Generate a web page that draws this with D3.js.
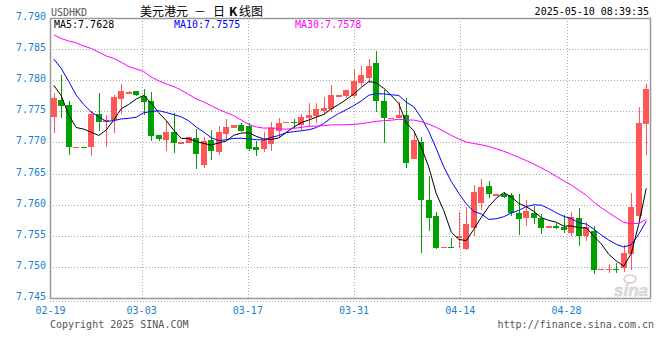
<!DOCTYPE html>
<html>
<head>
<meta charset="utf-8">
<script src="https://cdn.jsdelivr.net/npm/d3@7/dist/d3.min.js"></script>
<style>
  body { margin: 0; background: #fff; }
  text { font-family: "DejaVu Sans Mono", monospace; font-size: 10px; }
</style>
</head>
<body>
<svg id="chart" width="660" height="360"></svg>
<script>
// daily candles, 02-19 .. 05-09 (calendar days, weekends included)
let dates = [
  "02-19","02-20","02-21","02-22","02-23","02-24","02-25","02-26","02-27","02-28",
  "03-01","03-02","03-03","03-04","03-05","03-06","03-07","03-08","03-09","03-10",
  "03-11","03-12","03-13","03-14","03-15","03-16","03-17","03-18","03-19","03-20",
  "03-21","03-22","03-23","03-24","03-25","03-26","03-27","03-28","03-29","03-30",
  "03-31","04-01","04-02","04-03","04-04","04-05","04-06","04-07","04-08","04-09",
  "04-10","04-11","04-12","04-13","04-14","04-15","04-16","04-17","04-18","04-19",
  "04-20","04-21","04-22","04-23","04-24","04-25","04-26","04-27","04-28","04-29",
  "04-30","05-01","05-02","05-03","05-04","05-05","05-06","05-07","05-08","05-09"
];

let open = [
  7.7741,7.7768,7.7760,7.7692,7.7693,7.7692,7.7746,7.7734,7.7736,7.7770,
  7.7780,7.7783,7.7775,7.7767,7.7712,7.7704,7.7716,7.7699,7.7699,7.7707,
  7.7663,7.7704,7.7685,7.7714,7.7724,7.7728,7.7727,7.7692,7.7689,7.7698,
  7.7718,7.7732,7.7733,7.7728,7.7740,7.7743,7.7751,7.7754,7.7775,7.7775,
  7.7775,7.7796,7.7804,7.7827,7.7767,7.7739,7.7740,7.7744,7.7673,7.7700,
  7.7608,7.7581,7.7530,7.7532,7.7547,7.7529,7.7563,7.7603,7.7630,7.7616,
  7.7617,7.7616,7.7586,7.7579,7.7586,7.7578,7.7563,7.7566,7.7564,7.7554,
  7.7578,7.7549,7.7557,7.7496,7.7496,7.7497,7.7498,7.7521,7.7581,7.7730
];
let high = [
  7.7779,7.7808,7.7767,7.7693,7.7693,7.7751,7.7779,7.7744,7.7776,7.7794,
  7.7783,7.7783,7.7786,7.7781,7.7712,7.7734,7.7747,7.7700,7.7709,7.7722,
  7.7709,7.7720,7.7726,7.7738,7.7728,7.7731,7.7731,7.7702,7.7716,7.7733,
  7.7739,7.7733,7.7738,7.7746,7.7763,7.7764,7.7773,7.7792,7.7776,7.7784,
  7.7818,7.7823,7.7834,7.7847,7.7784,7.7740,7.7765,7.7771,7.7715,7.7709,
  7.7646,7.7589,7.7532,7.7547,7.7589,7.7597,7.7632,7.7641,7.7638,7.7617,
  7.7620,7.7619,7.7617,7.7608,7.7598,7.7585,7.7565,7.7570,7.7583,7.7589,
  7.7594,7.7572,7.7565,7.7497,7.7504,7.7506,7.7535,7.7618,7.7757,7.7794
];
let low = [
  7.7715,7.7740,7.7680,7.7692,7.7692,7.7679,7.7718,7.7693,7.7715,7.7745,
  7.7780,7.7774,7.7744,7.7702,7.7702,7.7686,7.7683,7.7699,7.7699,7.7658,
  7.7659,7.7672,7.7680,7.7704,7.7724,7.7717,7.7686,7.7679,7.7684,7.7686,
  7.7707,7.7732,7.7723,7.7720,7.7727,7.7732,7.7744,7.7749,7.7775,7.7772,
  7.7772,7.7791,7.7795,7.7749,7.7699,7.7739,7.7739,7.7659,7.7673,7.7523,
  7.7557,7.7529,7.7530,7.7530,7.7530,7.7527,7.7549,7.7591,7.7611,7.7616,
  7.7611,7.7582,7.7551,7.7565,7.7569,7.7553,7.7563,7.7561,7.7554,7.7549,
  7.7534,7.7542,7.7489,7.7496,7.7490,7.7490,7.7492,7.7495,7.7575,7.7680
];
let close = [
  7.7771,7.7759,7.7692,7.7693,7.7692,7.7746,7.7733,7.7736,7.7773,7.7783,
  7.7781,7.7776,7.7765,7.7711,7.7706,7.7717,7.7699,7.7700,7.7709,7.7682,
  7.7702,7.7686,7.7717,7.7725,7.7728,7.7719,7.7689,7.7688,7.7704,7.7724,
  7.7731,7.7733,7.7731,7.7741,7.7744,7.7754,7.7755,7.7776,7.7776,7.7784,
  7.7798,7.7808,7.7823,7.7767,7.7739,7.7740,7.7744,7.7667,7.7704,7.7608,
  7.7579,7.7530,7.7532,7.7530,7.7550,7.7569,7.7621,7.7628,7.7617,7.7617,
  7.7613,7.7587,7.7577,7.7590,7.7579,7.7563,7.7565,7.7562,7.7559,7.7580,
  7.7549,7.7564,7.7495,7.7497,7.7497,7.7495,7.7522,7.7597,7.7731,7.7786
];

// moving average values at the left edge (windows reach back before 02-19)
let ma5Head = [7.7792, 7.7775, 7.7744, 7.7724];
let ma10Head = [7.7834, 7.7819, 7.7798, 7.7776, 7.7761, 7.7749, 7.7741, 7.7734, 7.7735];
let ma30Head = [
  7.7873, 7.7867, 7.7863, 7.7860, 7.7855, 7.7851, 7.7845, 7.7839, 7.7835, 7.7829,
  7.7822, 7.7818, 7.7814, 7.7805, 7.7799, 7.7794, 7.7790, 7.7784, 7.7777, 7.7770,
  7.7765, 7.7759, 7.7753, 7.7748, 7.7743, 7.7736, 7.7729, 7.7725, 7.7723
];

let yTicks = [7.790, 7.785, 7.780, 7.775, 7.770, 7.765, 7.760, 7.755, 7.750, 7.745];
let xTicks = ["02-19", "03-03", "03-17", "03-31", "04-14", "04-28"];
let maLegend = ["MA5:7.7628", "MA10:7.7575", "MA30:7.7578"];

let svg = d3.select("#chart");
let margin = { left: 50, right: 650, top: 18, bottom: 298 };
let upColor = "#ff5656", downColor = "#00a000";

let x = d3.scaleBand().domain(dates).range([margin.left, margin.right]);
let xGrid = d3.scalePoint().domain(dates).range([margin.left + 0.6, margin.right]);
let y = d3.scaleLinear().domain([7.745, 7.790]).range([margin.bottom, margin.top]);

function cx(i) { return x(dates[i]) + x.bandwidth() / 2; }

// moving average: head values from the picture, then mean of the closes
function movingAvg(n, head) {
  return close.map(function(c, i) {
    if (i < head.length) return head[i];
    return d3.mean(close.slice(i - n + 1, i + 1));
  });
}

// header
svg.append("text").attr("x", 51).attr("y", 16).attr("fill", "#555").text("USDHKD");
let title = svg.append("text").attr("y", 16)
  .style("font-family", "'Noto Sans CJK SC'").style("font-size", "12px").attr("fill", "#000");
[["美元港元", 140], ["－", 194], ["日", 213], ["K", 229], ["线图", 239]].forEach(function(p) {
  title.append("tspan").attr("x", p[1])
    .style("font-weight", p[0] == "K" ? "bold" : null).text(p[0]);
});
svg.append("text").attr("x", 649).attr("y", 15).attr("text-anchor", "end")
  .attr("fill", "#000").text("2025-05-10 08:39:35");

// grid
let grid = svg.append("g").attr("stroke", "#aaa").attr("stroke-dasharray", "1,2")
  .attr("shape-rendering", "crispEdges");
grid.selectAll(".hg").data(yTicks.slice(1, -1)).enter().append("line")
  .attr("x1", margin.left).attr("x2", margin.right)
  .attr("y1", function(d) { return Math.round(y(d)) + 0.5; })
  .attr("y2", function(d) { return Math.round(y(d)) + 0.5; });
grid.selectAll(".vg").data(xTicks.slice(1)).enter().append("line")
  .attr("y1", margin.top).attr("y2", margin.bottom)
  .attr("x1", function(d) { return Math.round(xGrid(d)) + 0.5; })
  .attr("x2", function(d) { return Math.round(xGrid(d)) + 0.5; });
grid.append("line").attr("x1", margin.left).attr("x2", 653)
  .attr("y1", 301.5).attr("y2", 301.5);

// frame
svg.append("rect").attr("x", margin.left + 0.5).attr("y", margin.top + 0.5)
  .attr("width", margin.right - margin.left).attr("height", margin.bottom - margin.top)
  .attr("fill", "none").attr("stroke", "#999").attr("stroke-width", 1.5);

// axis labels
svg.selectAll(".yl").data(yTicks).enter().append("text")
  .attr("x", 46).attr("y", function(d) { return y(d) + 2; })
  .attr("text-anchor", "end").attr("fill", "#1a7fd0")
  .text(function(d) { return d3.format(".3f")(d); });
svg.selectAll(".xl").data(xTicks).enter().append("text")
  .attr("x", function(d) { return xGrid(d); }).attr("y", 314)
  .attr("text-anchor", "middle").attr("fill", "#1a7fd0")
  .text(function(d) { return d; });

// watermark
svg.append("text").attr("x", 648).attr("y", 296).attr("text-anchor", "end")
  .style("font-family", "'Liberation Sans'").style("font-size", "17px")
  .style("font-style", "italic").style("font-weight", "bold")
  .attr("fill", "#dcdcdc").attr("stroke", "#cfcfcf").attr("stroke-width", 0.5).text("sina");
svg.append("ellipse").attr("cx", 630).attr("cy", 279).attr("rx", 6).attr("ry", 4)
  .attr("fill", "none").attr("stroke", "#e2c8c8").attr("stroke-width", 1.5);

// candles
let candles = svg.append("g").attr("shape-rendering", "crispEdges");
let idx = d3.range(dates.length);
candles.selectAll(".wick").data(idx).enter().append("rect")
  .attr("x", function(i) { return Math.round(cx(i) - 3) + 3; })
  .attr("width", 1)
  .attr("y", function(i) { return y(high[i]); })
  .attr("height", function(i) { return Math.max(1, y(low[i]) - y(high[i])); })
  .attr("fill", function(i) { return close[i] >= open[i] ? upColor : downColor; });
candles.selectAll(".body").data(idx).enter().append("rect")
  .attr("x", function(i) { return Math.round(cx(i) - 3); })
  .attr("width", 6)
  .attr("y", function(i) { return y(Math.max(open[i], close[i])); })
  .attr("height", function(i) { return Math.max(1.5, Math.abs(y(open[i]) - y(close[i]))); })
  .attr("fill", function(i) { return close[i] >= open[i] ? upColor : downColor; });

// moving average lines
let line = d3.line().x(function(d, i) { return cx(i); }).y(function(d) { return y(d); });
let maSeries = [
  { values: movingAvg(5, ma5Head), color: "#000" },
  { values: movingAvg(10, ma10Head), color: "#0000ff" },
  { values: movingAvg(30, ma30Head), color: "#ff00ff" }
];
svg.selectAll(".ma").data(maSeries).enter().append("path")
  .attr("d", function(d) { return line(d.values); })
  .attr("fill", "none").attr("stroke", function(d) { return d.color; })
  .attr("stroke-width", 1);

// legend
let legendX = [54, 174, 295];
svg.selectAll(".lg").data(maLegend).enter().append("text")
  .attr("x", function(d, i) { return legendX[i]; }).attr("y", 28)
  .attr("fill", function(d, i) { return maSeries[i].color; })
  .text(function(d) { return d; });

// footer
svg.append("text").attr("x", 50).attr("y", 328).attr("fill", "#555").text("Copyright 2025 SINA.COM");
svg.append("text").attr("x", 654).attr("y", 328).attr("text-anchor", "end")
  .attr("fill", "#555").text("http://finance.sina.com.cn");
</script>
</body>
</html>
